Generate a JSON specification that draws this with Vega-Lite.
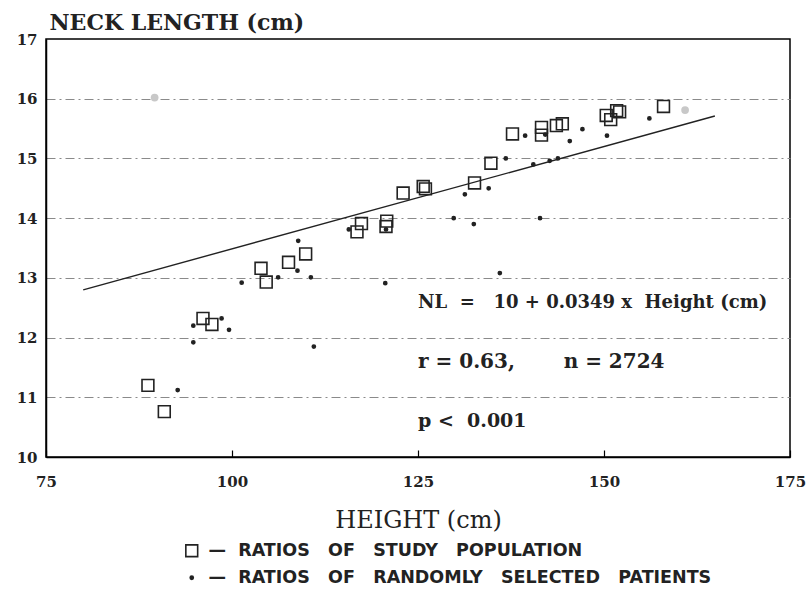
{
  "$schema": "https://vega.github.io/schema/vega-lite/v6.json",
  "width": 744,
  "height": 418,
  "autosize": {"type": "none"},
  "padding": {"left": 46, "top": 39, "right": 18, "bottom": 134},
  "background": "white",
  "config": {
    "view": {"stroke": "black", "strokeWidth": 1.5},
    "axis": {"domainColor": "black", "domainWidth": 1.5, "labelColor": "#222", "titleColor": "#222"}
  },
  "datasets": {
    "fit": [
      {"height": 80, "neck": 12.8},
      {"height": 164.9, "neck": 15.71}
    ],
    "study": [
      {"height": 88.7, "neck": 11.2, "series": "study"},
      {"height": 90.9, "neck": 10.76, "series": "study"},
      {"height": 96.1, "neck": 12.32, "series": "study"},
      {"height": 97.3, "neck": 12.22, "series": "study"},
      {"height": 103.9, "neck": 13.16, "series": "study"},
      {"height": 104.6, "neck": 12.93, "series": "study"},
      {"height": 107.6, "neck": 13.26, "series": "study"},
      {"height": 109.9, "neck": 13.4, "series": "study"},
      {"height": 116.8, "neck": 13.77, "series": "study"},
      {"height": 117.4, "neck": 13.91, "series": "study"},
      {"height": 120.8, "neck": 13.95, "series": "study"},
      {"height": 120.7, "neck": 13.86, "series": "study"},
      {"height": 123.0, "neck": 14.42, "series": "study"},
      {"height": 125.7, "neck": 14.53, "series": "study"},
      {"height": 126.0, "neck": 14.49, "series": "study"},
      {"height": 132.6, "neck": 14.59, "series": "study"},
      {"height": 134.8, "neck": 14.92, "series": "study"},
      {"height": 137.7, "neck": 15.41, "series": "study"},
      {"height": 141.6, "neck": 15.52, "series": "study"},
      {"height": 141.6, "neck": 15.39, "series": "study"},
      {"height": 143.6, "neck": 15.55, "series": "study"},
      {"height": 144.4, "neck": 15.58, "series": "study"},
      {"height": 150.3, "neck": 15.72, "series": "study"},
      {"height": 150.9, "neck": 15.65, "series": "study"},
      {"height": 151.7, "neck": 15.8, "series": "study"},
      {"height": 152.1, "neck": 15.78, "series": "study"},
      {"height": 158.0, "neck": 15.87, "series": "study"}
    ],
    "random": [
      {"height": 92.7, "neck": 11.12, "series": "random"},
      {"height": 94.8, "neck": 12.2, "series": "random"},
      {"height": 94.8, "neck": 11.92, "series": "random"},
      {"height": 98.6, "neck": 12.32, "series": "random"},
      {"height": 99.6, "neck": 12.13, "series": "random"},
      {"height": 101.3, "neck": 12.92, "series": "random"},
      {"height": 106.2, "neck": 13.01, "series": "random"},
      {"height": 108.8, "neck": 13.12, "series": "random"},
      {"height": 108.9, "neck": 13.62, "series": "random"},
      {"height": 110.6, "neck": 13.01, "series": "random"},
      {"height": 111.0, "neck": 11.85, "series": "random"},
      {"height": 115.7, "neck": 13.81, "series": "random"},
      {"height": 120.7, "neck": 13.81, "series": "random"},
      {"height": 120.6, "neck": 12.91, "series": "random"},
      {"height": 129.8, "neck": 14.0, "series": "random"},
      {"height": 132.5, "neck": 13.9, "series": "random"},
      {"height": 131.3, "neck": 14.4, "series": "random"},
      {"height": 134.5, "neck": 14.5, "series": "random"},
      {"height": 136.0, "neck": 13.08, "series": "random"},
      {"height": 136.8, "neck": 15.0, "series": "random"},
      {"height": 139.4, "neck": 15.38, "series": "random"},
      {"height": 140.5, "neck": 14.9, "series": "random"},
      {"height": 141.4, "neck": 14.0, "series": "random"},
      {"height": 142.1, "neck": 15.4, "series": "random"},
      {"height": 142.7, "neck": 14.96, "series": "random"},
      {"height": 143.8, "neck": 15.0, "series": "random"},
      {"height": 145.4, "neck": 15.29, "series": "random"},
      {"height": 147.1, "neck": 15.49, "series": "random"},
      {"height": 150.4, "neck": 15.38, "series": "random"},
      {"height": 156.1, "neck": 15.67, "series": "random"}
    ],
    "faint": [
      {"height": 89.6, "neck": 16.02},
      {"height": 160.9, "neck": 15.81}
    ],
    "note": [{"n": 1}]
  },
  "layer": [
    {
      "data": {"name": "faint"},
      "mark": {"type": "circle", "color": "#c8c8c8", "size": 60, "opacity": 1},
      "encoding": {
        "x": {"field": "height", "type": "quantitative", "scale": {"domain": [75, 175], "nice": false, "zero": false},
          "axis": {"values": [75, 100, 125, 150, 175], "title": "HEIGHT (cm)", "grid": false, "tickSize": -7, "tickColor": "black", "tickWidth": 1.2,
            "labelFont": "DejaVu Serif", "labelFontWeight": "bold", "labelFontSize": 15, "labelPadding": 24, "labelFlush": false,
            "titleFont": "DejaVu Serif", "titleFontWeight": "normal", "titleFontSize": 24, "titleY": 70, "titleBaseline": "alphabetic"}},
        "y": {"field": "neck", "type": "quantitative", "scale": {"domain": [10, 17], "nice": false, "zero": false},
          "axis": {"values": [10, 11, 12, 13, 14, 15, 16, 17], "format": "d", "grid": true, "gridDash": [9, 4, 2, 4], "gridWidth": 1,
            "gridColor": {"condition": {"test": "datum.value == 10 || datum.value == 17", "value": "transparent"}, "value": "#8a8a8a"},
            "ticks": false, "labelPadding": 9,
            "labelFont": "DejaVu Serif", "labelFontWeight": "bold", "labelFontSize": 15,
            "title": "NECK LENGTH (cm)", "titleAngle": 0, "titleAlign": "left", "titleX": 3, "titleY": -10, "titleBaseline": "alphabetic",
            "titleFont": "DejaVu Serif", "titleFontWeight": "bold", "titleFontSize": 22}}
      }
    },
    {
      "data": {"name": "fit"},
      "mark": {"type": "line", "color": "#222", "strokeWidth": 1.4},
      "encoding": {
        "x": {"field": "height", "type": "quantitative"},
        "y": {"field": "neck", "type": "quantitative"}
      }
    },
    {
      "data": {"name": "study"},
      "mark": {"type": "point", "filled": true, "stroke": "#222", "strokeWidth": 1.6, "opacity": 1, "fillOpacity": 1},
      "encoding": {
        "x": {"field": "height", "type": "quantitative"},
        "y": {"field": "neck", "type": "quantitative"},
        "shape": {"field": "series", "type": "nominal",
          "scale": {"domain": ["study", "random"], "range": ["square", "circle"]},
          "legend": {"orient": "none", "legendX": 137, "legendY": 503, "title": null,
            "labelFont": "DejaVu Sans", "labelFontWeight": "bold", "labelFontSize": 17.5, "labelColor": "#222", "labelLimit": 0,
            "labelExpr": "datum.value == 'study' ? '—\u00a0\u00a0RATIOS\u00a0\u00a0\u00a0OF\u00a0\u00a0\u00a0STUDY\u00a0\u00a0\u00a0POPULATION' : '—\u00a0\u00a0RATIOS\u00a0\u00a0\u00a0OF\u00a0\u00a0\u00a0RANDOMLY\u00a0\u00a0\u00a0SELECTED\u00a0\u00a0\u00a0PATIENTS'",
            "rowPadding": 8, "labelOffset": 8, "symbolStrokeColor": "#222", "symbolStrokeWidth": 1.6}},
        "fill": {"field": "series", "type": "nominal",
          "scale": {"domain": ["study", "random"], "range": ["transparent", "#222"]}},
        "size": {"field": "series", "type": "nominal",
          "scale": {"domain": ["study", "random"], "range": [140, 10]}}
      }
    },
    {
      "data": {"name": "random"},
      "mark": {"type": "point", "filled": true, "stroke": "#222", "strokeWidth": 1.6, "opacity": 1, "fillOpacity": 1},
      "encoding": {
        "x": {"field": "height", "type": "quantitative"},
        "y": {"field": "neck", "type": "quantitative"},
        "shape": {"field": "series", "type": "nominal"},
        "fill": {"field": "series", "type": "nominal"},
        "size": {"field": "series", "type": "nominal"}
      }
    },
    {
      "data": {"name": "note"},
      "mark": {"type": "text", "align": "left", "baseline": "middle", "font": "DejaVu Serif", "fontWeight": "bold", "fontSize": 18, "color": "#222", "text": "NL\u00a0\u00a0=\u00a0\u00a0\u00a010\u00a0+\u00a00.0349\u00a0x\u00a0\u00a0Height\u00a0(cm)"},
      "encoding": {"x": {"datum": 125}, "y": {"datum": 12.58}}
    },
    {
      "data": {"name": "note"},
      "mark": {"type": "text", "align": "left", "baseline": "middle", "font": "DejaVu Serif", "fontWeight": "bold", "fontSize": 20, "color": "#222", "text": "r\u00a0=\u00a00.63,\u00a0\u00a0\u00a0\u00a0\u00a0\u00a0\u00a0n\u00a0=\u00a02724"},
      "encoding": {"x": {"datum": 125}, "y": {"datum": 11.59}}
    },
    {
      "data": {"name": "note"},
      "mark": {"type": "text", "align": "left", "baseline": "middle", "font": "DejaVu Serif", "fontWeight": "bold", "fontSize": 19, "color": "#222", "text": "p\u00a0<\u00a0\u00a00.001"},
      "encoding": {"x": {"datum": 125}, "y": {"datum": 10.6}}
    }
  ]
}
